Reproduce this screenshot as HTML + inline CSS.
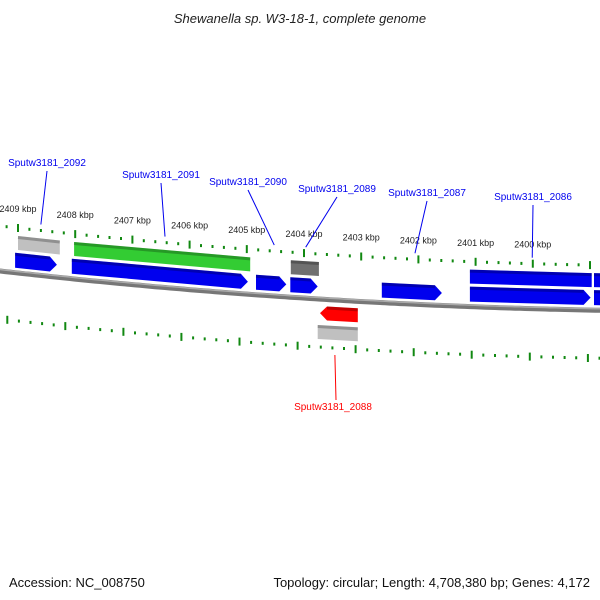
<!DOCTYPE html>
<html><head><meta charset="utf-8"><style>
body{margin:0;background:#fff;}
svg{display:block;font-family:"Liberation Sans",sans-serif;}
</style></head><body>
<svg id="c" width="600" height="600" viewBox="0 0 600 600" xmlns="http://www.w3.org/2000/svg">
<text x="300" y="23" text-anchor="middle" font-size="13" font-style="italic" fill="#222">Shewanella sp. W3-18-1, complete genome</text>
<text x="9" y="587" font-size="13" fill="#111">Accession: NC_008750</text>
<text x="590" y="587" font-size="13" fill="#111" text-anchor="end">Topology: circular; Length: 4,708,380 bp; Genes: 4,172</text>
<g id="layer"></g>
</svg>
<script>
const majorTicks=[2409,2408,2407,2406,2405,2404,2403,2402,2401,2400];
const tickLabels=["2409 kbp","2408 kbp","2407 kbp","2406 kbp","2405 kbp","2404 kbp","2403 kbp","2402 kbp","2401 kbp","2400 kbp"];
const geneNames=["gray-top-1","green-1","darkgray-1","blue-top-1","blue-top-2","blue-1","blue-2","blue-3","blue-4","blue-5","blue-6","blue-7","red-rev-1","gray-rev-1"];
const geneStart=[2409.0,2408.02,2404.23,2401.1,2398.93,2409.05,2408.06,2404.84,2404.24,2402.64,2401.1,2398.93,2403.72,2403.76];
const geneEnd=[2408.27,2404.94,2403.74,2398.97,2398.7,2408.32,2404.98,2404.31,2403.76,2401.59,2398.99,2398.7,2403.06,2403.06];
const geneTrack=[0,0,0,0,0,1,1,1,1,1,1,1,2,3];
const geneArrow=[0,0,0,0,0,1,1,1,1,1,1,1,-1,0];
const geneColor=["#c0c0c0","#33cc33","#707070","#0000ee","#0000ee","#0000ee","#0000ee","#0000ee","#0000ee","#0000ee","#0000ee","#0000ee","#ff0000","#c0c0c0"];
const labelNames=["Sputw3181_2092","Sputw3181_2091","Sputw3181_2090","Sputw3181_2089","Sputw3181_2087","Sputw3181_2086","Sputw3181_2088"];
const labelKbp=[2408.6,2406.43,2404.52,2403.97,2402.06,2400.01,2403.46];
const labelTextX=[47,161,248,337,427,533,333];
const labelTextY=[170,182,189,196,200,204,414];
const labelSide=[0,0,0,0,0,0,1];

const NS="http://www.w3.org/2000/svg";
const layer=document.getElementById('layer');
const xs=k=>18+(2409-k)*57.2;
const cy=x=>226+0.1134*x-0.00008*x*x;
const trackOff=[8,25,52,71], trackH=[14,15,14,14];
function mk(t,a,name){const e=document.createElementNS(NS,t);for(const k in a)e.setAttribute(k,a[k]);


layer.appendChild(e);return e;}
let d="";for(let x=-5;x<=605;x+=5){d+=(x===-5?"M":"L")+x+","+(cy(x)+45).toFixed(1);}
mk('path',{d:d,stroke:"#777",'stroke-width':5,fill:"none"},'backbone');
mk('path',{d:d,stroke:"#aaa",'stroke-width':1.5,fill:"none",transform:"translate(0,-1.5)"},'backbone-highlight');
for(let i=0;i<=56;i++){const k=2409.4-i*0.2;const kr=Math.round(k*10)/10;const maj=Math.abs(kr-Math.round(kr))<0.01;
 const x=xs(kr);const h=maj?8:3;
 if(x<600) mk('rect',{x:(x-1).toFixed(1),y:(cy(x)-h/2).toFixed(1),width:2,height:h,fill:"#118811"},maj?'top-major-tick':'top-minor-tick');
 const xb=x-11+0.015*x;
 if(xb<600) mk('rect',{x:(xb-1).toFixed(1),y:(cy(xb)+93-h/2).toFixed(1),width:2,height:h,fill:"#118811"},maj?'bottom-major-tick':'bottom-minor-tick');}
majorTicks.forEach((k,i)=>{const x=xs(k);const t=mk('text',{x:x,y:(cy(x)-16).toFixed(1),'font-size':9,'text-anchor':'middle',fill:"#222"},'tick-label');t.textContent=tickLabels[i];});
geneStart.forEach((s,i)=>{let x1=xs(s),x2=xs(geneEnd[i]);const o=trackOff[geneTrack[i]],h=trackH[geneTrack[i]];
 const y=x=>cy(x)+o;let p;const a=7;
 if(geneArrow[i]===1)p=[[x1,y(x1)],[x2-a,y(x2-a)],[x2,y(x2)+h/2],[x2-a,y(x2-a)+h],[x1,y(x1)+h]];
 else if(geneArrow[i]===-1)p=[[x1+a,y(x1+a)],[x2,y(x2)],[x2,y(x2)+h],[x1+a,y(x1+a)+h],[x1,y(x1)+h/2]];
 else p=[[x1,y(x1)],[x2,y(x2)],[x2,y(x2)+h],[x1,y(x1)+h]];
 mk('polygon',{points:p.map(q=>q[0].toFixed(1)+","+q[1].toFixed(1)).join(" "),fill:geneColor[i]},'gene-'+geneNames[i]);
 const ea=geneArrow[i]===-1?x1+a:x1, eb=geneArrow[i]===1?x2-a:x2;
 mk('line',{x1:ea,y1:y(ea)+1.5,x2:eb,y2:y(eb)+1.5,stroke:"#000",'stroke-opacity':0.25,'stroke-width':3},'gene-edge-'+geneNames[i]);
});
labelNames.forEach((n,i)=>{const x=xs(labelKbp[i]);const col=labelSide[i]?"#ff0000":"#0000ee";
 const t=mk('text',{x:labelTextX[i],y:labelTextY[i]-4,'font-size':10,'text-anchor':'middle',fill:col},'gene-label-'+n);t.textContent=n;
 if(labelSide[i])mk('line',{x1:x,y1:cy(x)+100,x2:labelTextX[i]+3,y2:labelTextY[i]-14,stroke:col,'stroke-width':1},'label-leader');
 else mk('line',{x1:labelTextX[i],y1:labelTextY[i]+1,x2:x,y2:cy(x)-6,stroke:col,'stroke-width':1},'label-leader');
});
</script>
</body></html>
